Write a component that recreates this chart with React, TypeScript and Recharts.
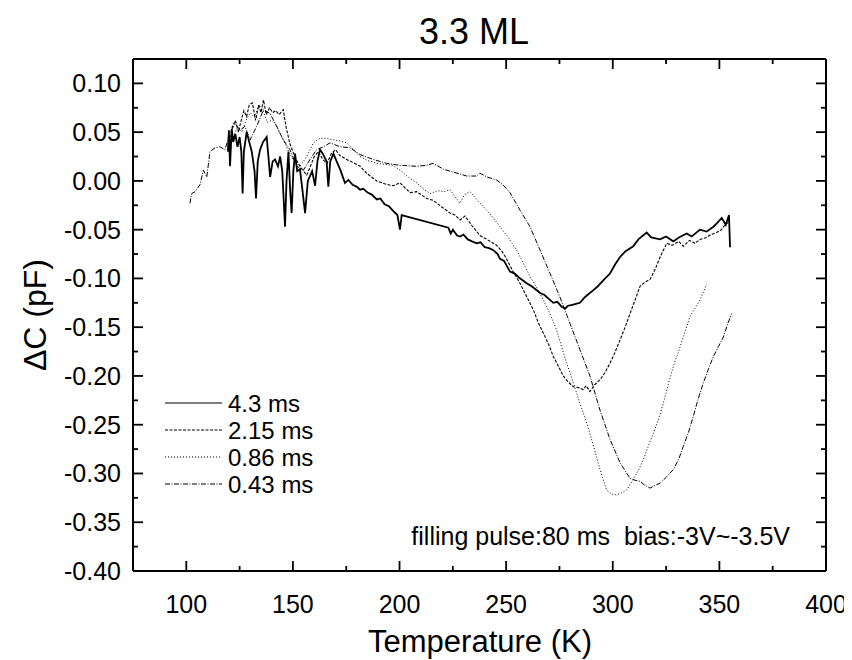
import React from 'react';
import { LineChart, Line, XAxis, YAxis } from 'recharts';

// ---------- data ----------
const seriesNames = ['4.3 ms', '2.15 ms', '0.86 ms', '0.43 ms'];

const temps43 = [119.5, 120, 120.5, 121.3, 122, 123, 124, 125, 125.8, 126.4, 127, 128.3, 129.5, 130.7, 132, 132.7, 133.5, 134.6, 136, 137.7, 138.5, 139.3, 140.5, 141.6, 143, 144, 145, 146.3, 147, 147.9, 148.7, 149.4, 150.2, 151, 152, 153.3, 154.5, 155.7, 157, 158, 159, 160.4, 161.5, 162.7, 164, 165.8, 166.6, 167.5, 169, 170.5, 172.1, 174.4, 176, 178, 180, 181.5, 183, 185, 187, 189.3, 191, 193, 195, 197.1, 199, 200.2, 201, 222.9, 224, 225, 227, 228.4, 230, 232, 234, 236.2, 238, 240, 242, 244, 246, 247.1, 249, 251.8, 254, 256, 259.6, 262, 265.9, 268, 270, 272.1, 274, 276, 277.6, 279, 281, 284.6, 287, 290.9, 293, 296, 298.7, 301, 303.4, 306, 309.6, 312, 315.9, 318, 322.2, 325, 328.4, 331, 334.7, 337, 340.9, 344, 347.2, 349, 351.1, 353, 354.5, 355];
const dc43 = [0.030, 0.052, 0.015, 0.053, 0.040, 0.048, 0.035, 0.045, 0.030, -0.013, 0.030, 0.050, 0.040, 0.030, 0.010, -0.018, 0.020, 0.032, 0.040, 0.045, 0.025, 0.004, 0.020, 0.022, 0.015, 0.025, 0.010, -0.047, 0.000, 0.030, -0.010, -0.033, 0.010, 0.028, 0.010, 0.012, -0.010, -0.033, 0.000, 0.005, 0.010, -0.005, 0.020, 0.032, 0.028, 0.020, -0.006, 0.020, 0.028, 0.020, 0.012, -0.002, 0.001, -0.004, -0.006, -0.009, -0.008, -0.012, -0.014, -0.019, -0.018, -0.024, -0.026, -0.031, -0.035, -0.050, -0.035, -0.048, -0.054, -0.050, -0.056, -0.057, -0.055, -0.060, -0.062, -0.064, -0.063, -0.068, -0.069, -0.071, -0.075, -0.080, -0.082, -0.093, -0.095, -0.099, -0.105, -0.108, -0.115, -0.117, -0.121, -0.125, -0.124, -0.129, -0.131, -0.128, -0.127, -0.125, -0.119, -0.112, -0.108, -0.101, -0.095, -0.086, -0.078, -0.072, -0.067, -0.060, -0.053, -0.058, -0.060, -0.057, -0.062, -0.058, -0.054, -0.057, -0.050, -0.052, -0.047, -0.043, -0.038, -0.045, -0.035, -0.068];

const temps215 = [120.5, 121.5, 123, 124.5, 125.5, 127, 128.3, 129.5, 131, 132.5, 134, 135, 136.2, 137.5, 139, 140.5, 142, 143.5, 145.5, 146.8, 148.6, 150, 151.5, 153.3, 155, 156.5, 158, 160, 162, 164, 166, 168, 170, 172, 175.2, 178, 181.5, 185, 189.3, 193, 197, 200.2, 204.9, 208, 212.7, 215.8, 220, 223.7, 226, 228.4, 230.7, 234, 237.7, 241, 245.5, 248, 250.2, 253, 256.5, 259.5, 262.7, 265, 267.4, 270, 272.1, 274.5, 276.8, 279, 281.5, 284, 286.2, 287.5, 289.3, 291.5, 294, 296.5, 298.7, 301, 303.4, 305.8, 308.1, 310.5, 312.8, 315, 317.5, 320, 322.2, 325.3, 328, 331, 333.1, 336, 338.5, 340.9, 344, 346, 348.7, 351, 353, 354.2];
const dc215 = [0.040, 0.055, 0.062, 0.050, 0.060, 0.072, 0.066, 0.078, 0.080, 0.062, 0.078, 0.070, 0.083, 0.068, 0.075, 0.070, 0.072, 0.068, 0.073, 0.055, 0.038, 0.030, 0.022, 0.015, 0.010, 0.006, 0.014, 0.025, 0.030, 0.022, 0.018, 0.028, 0.032, 0.026, 0.022, 0.019, 0.015, 0.007, 0.000, -0.003, -0.005, -0.002, -0.012, -0.011, -0.018, -0.020, -0.027, -0.033, -0.035, -0.040, -0.036, -0.046, -0.056, -0.060, -0.066, -0.072, -0.080, -0.092, -0.105, -0.118, -0.132, -0.145, -0.156, -0.168, -0.180, -0.190, -0.200, -0.206, -0.211, -0.212, -0.214, -0.210, -0.216, -0.209, -0.204, -0.196, -0.187, -0.176, -0.163, -0.150, -0.136, -0.122, -0.108, -0.104, -0.101, -0.090, -0.078, -0.064, -0.066, -0.062, -0.067, -0.061, -0.064, -0.060, -0.058, -0.055, -0.053, -0.050, -0.044, -0.043];

const temps086 = [122, 124, 126, 128, 130, 132, 134, 136, 138, 140, 142, 144, 146, 148, 150, 152, 153.3, 156.5, 159.6, 162, 164.3, 167, 169, 172, 175.2, 178, 181.5, 185, 189.3, 193, 197.1, 200.2, 204, 208, 211, 214.3, 218, 221, 223.7, 226, 228.3, 230.5, 233, 237, 240.8, 244, 247.1, 251, 254.9, 258, 261.2, 264.5, 267.4, 270.5, 273.7, 276, 278.4, 281.5, 284.6, 287, 289.3, 291.5, 294, 297.1, 299.5, 301.8, 304, 306.5, 309.6, 312, 314.3, 316.5, 319, 321.5, 323.7, 326, 328.4, 331, 333.1, 336.2, 338.5, 340.9, 342.5, 344];
const dc086 = [0.045, 0.055, 0.050, 0.062, 0.070, 0.065, 0.078, 0.072, 0.060, 0.062, 0.058, 0.048, 0.040, 0.030, 0.022, 0.018, 0.015, 0.025, 0.039, 0.043, 0.044, 0.043, 0.042, 0.041, 0.039, 0.033, 0.025, 0.021, 0.018, 0.017, 0.016, 0.011, 0.004, -0.002, -0.008, -0.013, -0.010, -0.011, -0.009, -0.016, -0.023, -0.014, -0.011, -0.021, -0.030, -0.038, -0.047, -0.058, -0.071, -0.084, -0.098, -0.110, -0.122, -0.136, -0.153, -0.170, -0.187, -0.207, -0.228, -0.243, -0.259, -0.276, -0.296, -0.317, -0.321, -0.322, -0.320, -0.317, -0.306, -0.297, -0.286, -0.273, -0.259, -0.244, -0.228, -0.209, -0.190, -0.174, -0.160, -0.139, -0.131, -0.122, -0.114, -0.106];

const temps043 = [101.7, 102.5, 104.1, 106.4, 108, 109.6, 111.1, 113.5, 115.8, 118.1, 120.5, 122.8, 125.2, 127.5, 129.9, 133, 136.2, 139.3, 142.4, 145.5, 148.6, 151.8, 154.9, 158, 161.1, 164.3, 167.4, 172.1, 176.8, 181.5, 187.7, 194, 200.2, 208, 212.7, 215.8, 220.6, 223.7, 228.4, 231.5, 236.2, 237.7, 241, 245.5, 248.5, 251.8, 256.5, 261.2, 265.9, 270.6, 275.2, 279.9, 284.6, 289.3, 294, 298.7, 303.4, 308.1, 310.5, 312.8, 315, 317.5, 320, 322.2, 325, 328.4, 331, 333.1, 335.5, 337.8, 340, 342.5, 345, 347.2, 349.5, 351.9, 354, 355.8];
const dc043 = [-0.023, -0.013, -0.011, -0.004, 0.011, 0.004, 0.030, 0.034, 0.035, 0.032, 0.049, 0.059, 0.052, 0.056, 0.042, 0.056, 0.073, 0.069, 0.056, 0.042, 0.032, 0.015, 0.011, 0.022, 0.032, 0.035, 0.039, 0.035, 0.034, 0.027, 0.022, 0.018, 0.016, 0.015, 0.016, 0.018, 0.012, 0.010, 0.007, 0.005, 0.005, 0.008, 0.004, 0.001, -0.004, -0.012, -0.030, -0.047, -0.071, -0.095, -0.119, -0.146, -0.173, -0.200, -0.235, -0.265, -0.289, -0.305, -0.307, -0.308, -0.312, -0.315, -0.312, -0.310, -0.304, -0.296, -0.285, -0.272, -0.258, -0.241, -0.224, -0.207, -0.192, -0.180, -0.170, -0.160, -0.146, -0.136];

const xTicks = [100, 125, 150, 175, 200, 225, 250, 275, 300, 325, 350, 375, 400];
const xLabelTicks = [100, 150, 200, 250, 300, 350, 400];
const yTicks = [-0.4, -0.375, -0.35, -0.325, -0.3, -0.275, -0.25, -0.225, -0.2, -0.175, -0.15, -0.125, -0.1, -0.075, -0.05, -0.025, 0, 0.025, 0.05, 0.075, 0.1];
const yLabelTicks = [-0.4, -0.35, -0.3, -0.25, -0.2, -0.15, -0.1, -0.05, 0, 0.05, 0.1];

const chartTitle = '3.3 ML';
const xTitle = 'Temperature (K)';
const yTitle = '\u0394C (pF)';
const note = 'filling pulse:80 ms  bias:-3V~-3.5V';

// ---------- helpers ----------
const zip = (ts: number[], cs: number[]) => ts.map((t, i) => ({ t, c: cs[i] }));
const data43 = zip(temps43, dc43);
const data215 = zip(temps215, dc215);
const data086 = zip(temps086, dc086);
const data043 = zip(temps043, dc043);

const FONT = '"Liberation Sans", Arial, Helvetica, sans-serif';
const isLabelX = (v: number) => xLabelTicks.some((m) => Math.abs(m - v) < 1e-6);
const isLabelY = (v: number) => yLabelTicks.some((m) => Math.abs(m - v) < 1e-6);

const MAJ = 10;
const MIN = 5;
const TW = 1.8;

const BottomTick = (props: any) => {
  const { x, y, payload } = props;
  const v = payload.value;
  const major = isLabelX(v);
  return (
    <g>
      <line x1={x} y1={y} x2={x} y2={y - (major ? MAJ : MIN)} stroke="#000" strokeWidth={TW} />
      {major && (
        <text x={x} y={y + 42} textAnchor="middle" fontFamily={FONT} fontSize={25} fill="#000">
          {v}
        </text>
      )}
    </g>
  );
};

const TopTick = (props: any) => {
  const { x, y, payload } = props;
  const major = isLabelX(payload.value);
  return <line x1={x} y1={y} x2={x} y2={y + (major ? MAJ : MIN)} stroke="#000" strokeWidth={TW} />;
};

const LeftTick = (props: any) => {
  const { x, y, payload } = props;
  const v = payload.value;
  const major = isLabelY(v);
  return (
    <g>
      <line x1={x} y1={y} x2={x + (major ? MAJ : MIN)} y2={y} stroke="#000" strokeWidth={TW} />
      {major && (
        <text x={x - 12} y={y} textAnchor="end" dominantBaseline="central" fontFamily={FONT} fontSize={25} fill="#000">
          {v.toFixed(2)}
        </text>
      )}
    </g>
  );
};

const RightTick = (props: any) => {
  const { x, y, payload } = props;
  const major = isLabelY(payload.value);
  return <line x1={x} y1={y} x2={x - (major ? MAJ : MIN)} y2={y} stroke="#000" strokeWidth={TW} />;
};

const legendRows = [
  { name: seriesNames[0], dash: undefined as string | undefined, w: 1.2 },
  { name: seriesNames[1], dash: '3 1.5', w: 1 },
  { name: seriesNames[2], dash: '1 2', w: 1 },
  { name: seriesNames[3], dash: '5 1.5 1 1.5', w: 1 },
];

export default function App() {
  const axisLine = { stroke: '#000', strokeWidth: 2 };
  return (
    <div style={{ position: 'relative', width: 844, height: 652, background: '#fff' }}>
      <LineChart width={844} height={652} margin={{ top: 50, right: 25, bottom: 0, left: 0 }}>
        <XAxis
          xAxisId="b"
          type="number"
          dataKey="t"
          domain={[75, 400]}
          allowDataOverflow
          ticks={xTicks}
          interval={0}
          tick={<BottomTick />}
          tickLine={false}
          tickSize={0}
          tickMargin={0}
          axisLine={axisLine}
          height={89}
        />
        <XAxis
          xAxisId="t"
          orientation="top"
          type="number"
          dataKey="t"
          domain={[75, 400]}
          allowDataOverflow
          ticks={xTicks}
          interval={0}
          tick={<TopTick />}
          tickLine={false}
          tickSize={0}
          tickMargin={0}
          axisLine={axisLine}
          height={1}
        />
        <YAxis
          yAxisId="l"
          type="number"
          dataKey="c"
          domain={[-0.4, 0.125]}
          allowDataOverflow
          ticks={yTicks}
          interval={0}
          tick={<LeftTick />}
          tickLine={false}
          tickSize={0}
          tickMargin={0}
          axisLine={axisLine}
          width={125}
        />
        <YAxis
          yAxisId="r"
          orientation="right"
          type="number"
          dataKey="c"
          domain={[-0.4, 0.125]}
          allowDataOverflow
          ticks={yTicks}
          interval={0}
          tick={<RightTick />}
          tickLine={false}
          tickSize={0}
          tickMargin={0}
          axisLine={axisLine}
          width={1}
        />
        <Line xAxisId="t" yAxisId="r" data={data43} dataKey="c" type="linear" stroke="none" dot={false} activeDot={false} legendType="none" isAnimationActive={false} />
        <Line xAxisId="b" yAxisId="l" data={data043} dataKey="c" type="linear" stroke="#000" strokeWidth={1} strokeDasharray="5 1.5 1 1.5" dot={false} isAnimationActive={false} />
        <Line xAxisId="b" yAxisId="l" data={data086} dataKey="c" type="linear" stroke="#000" strokeWidth={1} strokeDasharray="1 2" dot={false} isAnimationActive={false} />
        <Line xAxisId="b" yAxisId="l" data={data215} dataKey="c" type="linear" stroke="#000" strokeWidth={1.1} strokeDasharray="3 1.5" dot={false} isAnimationActive={false} />
        <Line xAxisId="b" yAxisId="l" data={data43} dataKey="c" type="linear" stroke="#000" strokeWidth={1.8} dot={false} isAnimationActive={false} />
      </LineChart>
      <svg width={844} height={652} style={{ position: 'absolute', left: 0, top: 0, pointerEvents: 'none' }}>
        <text x={466} y={36} textAnchor="middle" fontFamily={FONT} fontSize={36} fill="#000">
          {chartTitle}
        </text>
        <text x={472} y={644} textAnchor="middle" fontFamily={FONT} fontSize={31} fill="#000">
          {xTitle}
        </text>
        <text
          x={27}
          y={307}
          textAnchor="middle"
          dominantBaseline="central"
          fontFamily={FONT}
          fontSize={32}
          fill="#000"
          transform="rotate(-90 27 307)"
        >
          {yTitle}
        </text>
        {legendRows.map((r, i) => {
          const cy = 395 + i * 27;
          return (
            <g key={r.name}>
              <line x1={157} y1={cy} x2={214} y2={cy} stroke="#000" strokeWidth={r.w} strokeDasharray={r.dash} />
              <text x={220} y={cy} dominantBaseline="central" fontFamily={FONT} fontSize={24} fill="#000">
                {r.name}
              </text>
            </g>
          );
        })}
        <text x={782} y={537} textAnchor="end" fontFamily={FONT} fontSize={25} fill="#000" style={{ whiteSpace: 'pre' }}>
          {note}
        </text>
      </svg>
    </div>
  );
}
